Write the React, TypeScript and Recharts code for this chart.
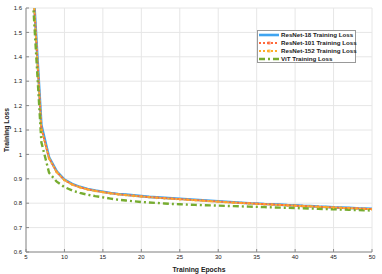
import { LineChart, Line, XAxis, YAxis, CartesianGrid } from "recharts";

const epochs = [5, 6, 7, 8, 9, 10, 11, 12, 13, 14, 15, 16, 17, 18, 19, 20, 21, 22, 23, 24, 25, 26, 27, 28, 29, 30, 31, 32, 33, 34, 35, 36, 37, 38, 39, 40, 41, 42, 43, 44, 45, 46, 47, 48, 49, 50];

const resnet18 = [2.4, 1.66, 1.12, 0.988, 0.93, 0.897, 0.879, 0.867, 0.858, 0.852, 0.847, 0.842, 0.838, 0.835, 0.832, 0.829, 0.826, 0.824, 0.822, 0.82, 0.818, 0.816, 0.814, 0.812, 0.81, 0.808, 0.806, 0.804, 0.802, 0.8, 0.799, 0.797, 0.796, 0.794, 0.792, 0.791, 0.789, 0.788, 0.786, 0.785, 0.783, 0.782, 0.781, 0.779, 0.778, 0.777];
const resnet101 = [2.38, 1.65, 1.11, 0.985, 0.928, 0.895, 0.877, 0.866, 0.857, 0.851, 0.846, 0.841, 0.837, 0.834, 0.831, 0.828, 0.825, 0.823, 0.821, 0.819, 0.817, 0.815, 0.813, 0.811, 0.809, 0.807, 0.805, 0.803, 0.801, 0.8, 0.798, 0.796, 0.795, 0.793, 0.792, 0.79, 0.789, 0.787, 0.786, 0.784, 0.783, 0.781, 0.78, 0.779, 0.777, 0.776];
const resnet152 = [2.37, 1.64, 1.1, 0.983, 0.927, 0.894, 0.876, 0.865, 0.856, 0.85, 0.845, 0.84, 0.836, 0.833, 0.83, 0.827, 0.825, 0.822, 0.82, 0.818, 0.816, 0.814, 0.812, 0.81, 0.808, 0.806, 0.804, 0.802, 0.801, 0.799, 0.797, 0.796, 0.794, 0.793, 0.791, 0.79, 0.788, 0.787, 0.785, 0.784, 0.782, 0.781, 0.78, 0.778, 0.777, 0.775];
const vit = [2.2, 1.58, 1.05, 0.925, 0.888, 0.866, 0.852, 0.842, 0.835, 0.829, 0.824, 0.819, 0.814, 0.811, 0.808, 0.805, 0.803, 0.801, 0.799, 0.797, 0.796, 0.794, 0.793, 0.792, 0.791, 0.79, 0.789, 0.788, 0.787, 0.786, 0.785, 0.784, 0.783, 0.782, 0.781, 0.78, 0.779, 0.778, 0.777, 0.776, 0.775, 0.774, 0.773, 0.772, 0.771, 0.77];

const xTicks = [5, 10, 15, 20, 25, 30, 35, 40, 45, 50];
const yTicks = [0.6, 0.7, 0.8, 0.9, 1.0, 1.1, 1.2, 1.3, 1.4, 1.5, 1.6];

const series = [
  { key: "r18", name: "ResNet-18 Training Loss", color: "#3FA4F0", width: 2.6, dash: undefined, dot: 0 },
  { key: "r101", name: "ResNet-101 Training Loss", color: "#FF6A3D", width: 2, dash: "2 2", dot: 1.1 },
  { key: "r152", name: "ResNet-152 Training Loss", color: "#FFAE2A", width: 2, dash: "2 2", dot: 1.3 },
  { key: "vit", name: "ViT Training Loss", color: "#77AC30", width: 2.4, dash: "6 3 2 3", dot: 0 },
];

const data = epochs.map((e, i) => ({
  epoch: e,
  r18: resnet18[i],
  r101: resnet101[i],
  r152: resnet152[i],
  vit: vit[i],
}));

const font = "'Liberation Sans', Arial, sans-serif";
const axisColor = "#8a8a8a";
const textColor = "#222";

function LegendBox() {
  return (
    <svg width={100} height={34} style={{ position: "absolute", left: 257, top: 30, display: "block" }}>
      <rect x={0.5} y={0.5} width={98} height={32} fill="#fff" stroke="#999" strokeWidth={1} />
      {series.map((s, i) => {
        const y = 5 + i * 8;
        return (
          <g key={s.key}>
            <line x1={2} x2={22} y1={y} y2={y} stroke={s.color} strokeWidth={s.width} strokeDasharray={s.dash} />
            {s.dot > 0 && <rect x={10.5} y={y - 1.5} width={3} height={3} fill={s.color} opacity={0.8} />}
            <text x={24} y={y + 2.2} fontSize={6.2} fontWeight="bold" fill={textColor} fontFamily={font}>
              {s.name}
            </text>
          </g>
        );
      })}
    </svg>
  );
}

export default function App() {
  return (
    <div style={{ position: "absolute", left: 0, top: 0, width: 382, height: 274, background: "#fff" }}>
      <LineChart width={382} height={274} data={data} margin={{ top: 8, right: 10, bottom: 0, left: 0 }}>
        <CartesianGrid stroke="#e6e6e6" strokeWidth={1} />
        <XAxis
          dataKey="epoch"
          type="number"
          domain={[5, 50]}
          ticks={xTicks}
          allowDataOverflow
          height={22}
          stroke={axisColor}
          tickSize={-3}
          tickMargin={6}
          tick={{ fontSize: 6, fill: textColor, fontFamily: font }}
          label={{ value: "Training Epochs", position: "insideBottom", offset: 2, fill: textColor, fontSize: 6.8, fontWeight: "bold", fontFamily: font }}
        />
        <XAxis xAxisId="top" dataKey="epoch" type="number" orientation="top" domain={[5, 50]} ticks={xTicks} allowDataOverflow height={0} stroke={axisColor} tickSize={-3} tick={() => null} />
        <YAxis
          type="number"
          domain={[0.6, 1.6]}
          ticks={yTicks}
          allowDataOverflow
          width={26}
          stroke={axisColor}
          tickSize={-3}
          tickMargin={7}
          tickFormatter={(v: number) => (Math.abs(v - 1) < 1e-9 ? "1" : v.toFixed(1))}
          tick={{ fontSize: 6, fill: textColor, fontFamily: font }}
          label={{ value: "Training Loss", angle: -90, position: "insideLeft", offset: 7, fill: textColor, fontSize: 6.8, fontWeight: "bold", fontFamily: font, textAnchor: "middle" }}
        />
        <YAxis yAxisId="right" orientation="right" type="number" domain={[0.6, 1.6]} ticks={yTicks} allowDataOverflow width={0} stroke={axisColor} tickSize={-3} tick={() => null} />
        {series.map((s) => (
          <Line
            key={s.key}
            dataKey={s.key}
            name={s.name}
            stroke={s.color}
            strokeWidth={s.width}
            strokeDasharray={s.dash}
            dot={s.dot > 0 ? { r: s.dot, fill: s.color, stroke: "none", fillOpacity: 0.8 } : false}
            isAnimationActive={false}
          />
        ))}
      </LineChart>
      <LegendBox />
    </div>
  );
}
